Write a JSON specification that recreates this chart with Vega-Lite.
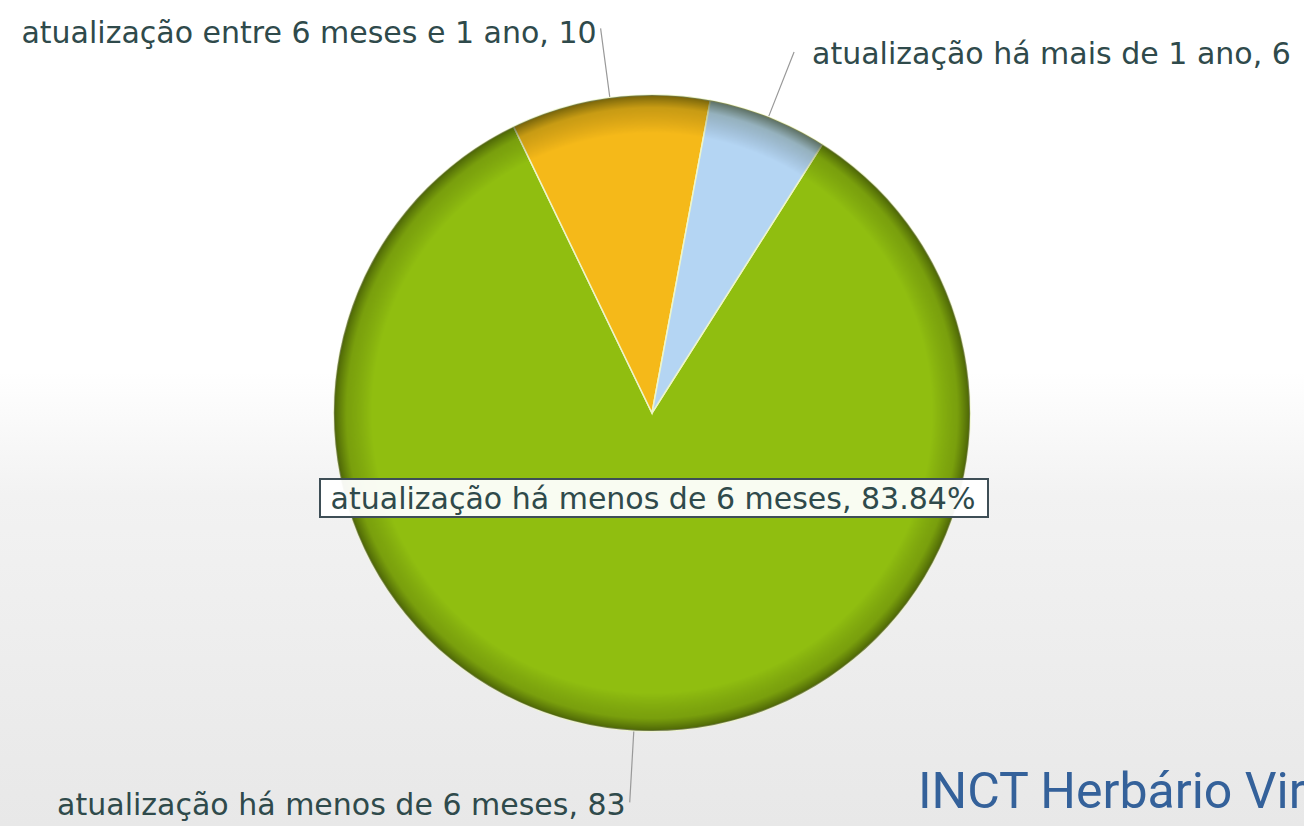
{
  "$schema": "https://vega.github.io/schema/vega-lite/v6.json",
  "width": 1304,
  "height": 826,
  "autosize": {"type": "none"},
  "padding": 0,
  "background": "#ffffff",
  "config": {"view": {"stroke": null}},
  "title": {"text": "INCT Herbário Virtual", "orient": "bottom", "anchor": "start", "frame": "group", "dx": 918, "offset": -18, "baseline": "alphabetic", "font": "Roboto", "fontSize": 50, "fontWeight": "normal", "color": "#34619a"},
  "data": {"values": [
    {"categoria": "atualização há menos de 6 meses", "n": 83, "rotulo": "atualização há menos de 6 meses, 83", "dica": "atualização há menos de 6 meses, 83.84%"},
    {"categoria": "atualização entre 6 meses e 1 ano", "n": 10, "rotulo": "atualização entre 6 meses e 1 ano, 10", "dica": ""},
    {"categoria": "atualização há mais de 1 ano", "n": 6, "rotulo": "atualização há mais de 1 ano, 6", "dica": ""}
  ]},
  "resolve": {"scale": {"theta": "independent"}},
  "layer": [
    {
      "data": {"values": [{}]},
      "mark": {"type": "rect", "fill": {"gradient": "linear", "x1": 0, "y1": 0, "x2": 0, "y2": 1, "stops": [{"offset": 0, "color": "#ffffff"}, {"offset": 0.45, "color": "#ffffff"}, {"offset": 0.6, "color": "#f2f2f2"}, {"offset": 1, "color": "#e8e8e8"}]}},
      "encoding": {}
    },
    {
      "mark": {"type": "arc", "radius": 318, "stroke": "#eef5c8", "strokeWidth": 1.5},
      "encoding": {
        "theta": {"field": "n", "type": "quantitative", "stack": true, "scale": {"range": [5.833, 12.1162]}},
        "order": {"field": "categoria", "type": "nominal", "sort": "ascending"},
        "color": {"field": "categoria", "type": "nominal", "legend": null, "scale": {"domain": ["atualização há menos de 6 meses", "atualização entre 6 meses e 1 ano", "atualização há mais de 1 ano"], "range": ["#90be10", "#f5b919", "#b4d5f3"]}}
      }
    },
    {
      "data": {"values": [{}]},
      "mark": {"type": "arc", "radius": 318, "theta": 0, "theta2": 6.2832, "fill": {"gradient": "radial", "x1": 0.5, "y1": 0.5, "r1": 0, "x2": 0.5, "y2": 0.5, "r2": 0.5, "stops": [{"offset": 0, "color": "rgba(0,0,0,0)"}, {"offset": 0.88, "color": "rgba(0,0,0,0)"}, {"offset": 0.96, "color": "rgba(40,50,0,0.22)"}, {"offset": 1, "color": "rgba(30,40,0,0.6)"}]}},
      "encoding": {}
    },
    {
      "mark": {"type": "arc", "radius": 388, "radius2": 319, "padAngle": 3.1416, "filled": false, "stroke": "#999999", "strokeWidth": 1.2},
      "encoding": {
        "theta": {"field": "n", "type": "quantitative", "stack": true, "scale": {"range": [5.833, 12.1162]}},
        "order": {"field": "categoria", "type": "nominal", "sort": "ascending"},
        "detail": {"field": "categoria"},
        "strokeOpacity": {"condition": {"test": "datum.n > 49", "value": 0}, "value": 1}
      }
    },
    {
      "transform": [{"filter": "datum.n > 49"}],
      "mark": {"type": "arc", "radius": 390, "radius2": 319, "padAngle": 3.1416, "filled": false, "stroke": "#999999", "strokeWidth": 1.2},
      "encoding": {
        "theta": {"field": "n", "type": "quantitative", "stack": true, "scale": {"domain": [0, 200], "range": [1.895, 8.1782]}}
      }
    },
    {
      "mark": {"type": "text", "radius": 388, "align": "right", "baseline": "middle", "dx": -4, "dy": 6, "font": "DejaVu Sans", "fontSize": 30, "fill": "#2f4a4b"},
      "encoding": {
        "theta": {"field": "n", "type": "quantitative", "stack": true, "scale": {"range": [5.833, 12.1162]}},
        "order": {"field": "categoria", "type": "nominal", "sort": "ascending"},
        "detail": {"field": "categoria"},
        "text": {"condition": {"test": "datum.categoria !== 'atualização há mais de 1 ano'", "field": "rotulo"}, "value": ""}
      }
    },
    {
      "mark": {"type": "text", "radius": 388, "align": "left", "baseline": "middle", "dx": 18, "dy": 3, "font": "DejaVu Sans", "fontSize": 30, "fill": "#2f4a4b"},
      "encoding": {
        "theta": {"field": "n", "type": "quantitative", "stack": true, "scale": {"range": [5.833, 12.1162]}},
        "order": {"field": "categoria", "type": "nominal", "sort": "ascending"},
        "detail": {"field": "categoria"},
        "text": {"condition": {"test": "datum.categoria === 'atualização há mais de 1 ano'", "field": "rotulo"}, "value": ""}
      }
    },
    {
      "data": {"values": [{}]},
      "mark": {"type": "rect", "fill": "#ffffff", "fillOpacity": 0.95, "stroke": "#3e4e56", "strokeWidth": 2},
      "encoding": {
        "x": {"value": {"expr": "width/2-332"}},
        "x2": {"value": {"expr": "width/2+336"}},
        "y": {"value": {"expr": "height/2+66"}},
        "y2": {"value": {"expr": "height/2+104"}}
      }
    },
    {
      "mark": {"type": "text", "radius": 87, "align": "center", "baseline": "middle", "dx": 6, "font": "DejaVu Sans", "fontSize": 30, "fill": "#2f4a4b"},
      "encoding": {
        "theta": {"field": "n", "type": "quantitative", "stack": true, "scale": {"range": [5.833, 12.1162]}},
        "order": {"field": "categoria", "type": "nominal", "sort": "ascending"},
        "detail": {"field": "categoria"},
        "text": {"field": "dica"}
      }
    }
  ]
}
